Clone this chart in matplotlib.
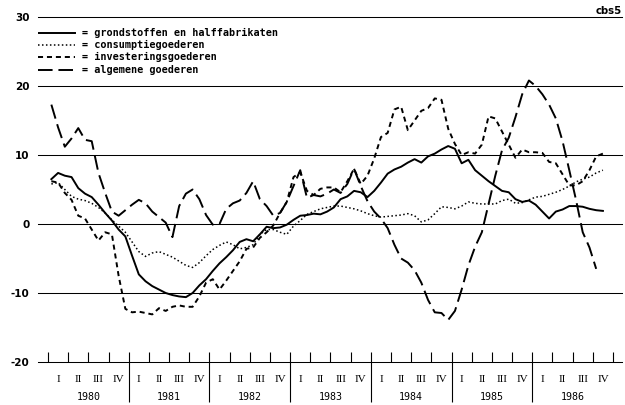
import numpy as np
import matplotlib
import matplotlib.pyplot as plt

matplotlib.use("Agg")

# monthly values, jan 1980 .. nov 1986 (percent change)
grondstoffen = [
    6.5, 7.4, 7.0, 6.8, 5.2, 4.4, 3.9, 2.8, 1.6, 0.5, -0.8, -1.8,
    -4.6, -7.3, -8.3, -9.0, -9.5, -10.0, -10.3, -10.5, -10.6, -10.0, -8.9, -8.0,
    -6.8, -5.7, -4.8, -3.8, -2.6, -2.2, -2.5, -1.5, -0.4, -0.6, -0.5, -0.1,
    0.6, 1.2, 1.3, 1.5, 1.4, 1.8, 2.4, 3.6, 4.0, 4.8, 4.6, 3.9,
    4.8, 6.0, 7.3, 7.9, 8.3, 8.9, 9.4, 8.9, 9.8, 10.2, 10.8, 11.3,
    10.9, 8.8, 9.3, 7.8, 7.0, 6.2, 5.5, 4.8, 4.6, 3.6, 3.2, 3.4,
    2.8, 1.8, 0.8, 1.8, 2.1, 2.6, 2.6, 2.5, 2.2, 2.0, 1.9,
]
consumptie = [
    5.8, 6.0, 5.0, 4.0, 3.6, 3.4, 3.0, 2.4, 1.6, 0.6, -0.3, -1.2,
    -2.6, -4.0, -4.7, -4.2, -4.0, -4.4, -4.8, -5.4, -6.0, -6.3, -5.6, -4.6,
    -3.7, -3.1, -2.6, -3.0, -3.6, -3.4, -3.0, -1.5, -0.8, -0.8, -1.2, -1.5,
    -0.3, 0.5, 1.4, 1.8, 2.2, 2.4, 2.6, 2.6, 2.4, 2.2, 1.9, 1.5,
    1.2, 1.0, 1.1, 1.2, 1.3, 1.5, 1.2, 0.3, 0.6, 1.5, 2.5, 2.4,
    2.2, 2.6, 3.2, 3.0, 2.9, 2.9, 2.9, 3.4, 3.6, 3.0, 3.1, 3.5,
    3.9, 4.0, 4.3, 4.6, 5.0, 5.5, 6.1, 6.5, 6.8, 7.4, 7.8,
]
investering = [
    6.2, 6.0, 4.5, 3.5, 1.2, 0.8, -0.8, -2.4, -1.2, -1.5, -7.5, -12.3,
    -12.8, -12.7, -12.9, -13.1, -12.2, -12.6, -12.0, -11.8, -12.0, -12.0, -10.5, -8.5,
    -8.0, -9.5, -8.2, -6.8, -5.4, -3.6, -3.4, -2.0, -1.2, -0.2, 1.6, 3.2,
    6.8, 7.5, 4.8, 4.2, 5.1, 5.3, 5.3, 4.6, 6.2, 8.0, 5.8, 7.0,
    9.5, 12.6, 13.2, 16.6, 17.0, 13.6, 15.0, 16.4, 16.8, 18.2, 18.0, 13.8,
    11.6, 10.0, 10.4, 10.2, 11.5, 15.6, 15.3, 13.4, 11.5, 9.6, 10.8, 10.4,
    10.4, 10.3, 9.0, 8.8, 7.2, 5.6, 5.6, 6.2, 7.8, 9.8, 10.2,
]
algemeen = [
    17.3, 14.0, 11.2, 12.4, 13.9, 12.2, 12.0, 7.4, 4.5, 1.8, 1.2, 2.0,
    2.8, 3.5, 3.0, 1.8, 1.0, 0.2, -1.9, 2.6, 4.4, 5.0, 3.6, 1.3,
    -0.1, 0.0, 2.2, 3.0, 3.4, 4.5, 6.2, 3.6, 2.6, 1.2, 1.6, 3.2,
    5.5, 7.8, 3.8, 4.2, 4.0, 4.4, 5.0, 4.5, 5.8, 8.0, 5.5, 3.3,
    1.8, 0.8, -0.6, -3.0, -5.0, -5.6, -6.7, -8.5, -11.0, -12.8, -12.9, -13.9,
    -12.6, -9.5, -6.0, -3.3, -1.2, 2.9, 7.0, 10.7, 12.5, 15.5, 18.8, 20.8,
    20.0, 18.8, 17.3, 15.3, 12.0, 7.8, 3.5, -1.2, -3.4, -6.5,
]

labels = [
    "grondstoffen en halffabrikaten",
    "consumptiegoederen",
    "investeringsgoederen",
    "algemene goederen",
]
years = [1980, 1981, 1982, 1983, 1984, 1985, 1986]
quarters = ["I", "II", "III", "IV"]
yticks = [30, 20, 10, 0, -10, -20]

styles = [
    dict(linestyle="-", linewidth=1.4),
    dict(linestyle=(0, (1.0, 1.6)), linewidth=1.1),
    dict(linestyle=(0, (2.6, 2.0)), linewidth=1.4),
    dict(linestyle=(0, (7.5, 3.0)), linewidth=1.4),
]

W, H = 625, 405
fig = plt.figure(figsize=(W / 100, H / 100), dpi=100)
# axes: x from px 38 to 622, y from -20 (px 362) to 30 (px 17)
ax = fig.add_axes([38 / W, 43 / H, 584 / W, 345 / H])
px_month = (613 - 48) / 84
ax.set_xlim(-10 / px_month, 574 / px_month)
ax.set_ylim(-20, 30)
px_unit = 345 / 50
for s in ax.spines.values():
    s.set_visible(False)
ax.set_xticks([])
ax.set_yticks(yticks)
ax.set_yticklabels([str(v) for v in yticks], fontsize=7.5, fontweight="bold")
ax.tick_params(axis="y", length=0, pad=6)

for v in yticks:
    ax.axhline(v, color="black", linewidth=0.75, clip_on=False)

series = [grondstoffen, consumptie, investering, algemeen]
for vals, st in zip(series, styles):
    x = np.arange(len(vals)) + 0.5
    ax.plot(x, vals, color="black", solid_joinstyle="round",
            dash_capstyle="butt", **st)

# quarter ticks and year separators
qt = np.arange(0, 85, 3)
ax.vlines(qt, -20, -20 + 10 / px_unit, color="black", linewidth=0.8)
yb = np.arange(12, 84, 12)
ax.vlines(yb, -20 - 40 / px_unit, -20, color="black", linewidth=0.8,
          clip_on=False)

y_q = -20 - 18 / px_unit
y_y = -20 - 35 / px_unit
for k, yr in enumerate(years):
    for j, q in enumerate(quarters):
        ax.text(12 * k + 3 * j + 1.5, y_q, q, ha="center", va="center",
                fontsize=8, family="Liberation Serif", clip_on=False)
    ax.text(12 * k + 6, y_y, str(yr), ha="center", va="center",
            fontsize=7.2, family="DejaVu Sans Mono", clip_on=False)

# legend rows
leg_y = [34, 46, 58, 71]
for lab, st, yp in zip(labels, styles, leg_y):
    v = (225 - yp) / px_unit
    ax.plot([-10 / px_month, 27 / px_month], [v, v], color="black", **st)
    ax.text(34 / px_month, v, "= " + lab, ha="left", va="center",
            fontsize=7.3, family="DejaVu Sans Mono", fontweight="bold")

fig.text(622 / W, 1 - 11 / H, "cbs5", ha="right", va="center",
         fontsize=7.3, fontweight="bold")

fig.savefig("out.png", dpi=100)
